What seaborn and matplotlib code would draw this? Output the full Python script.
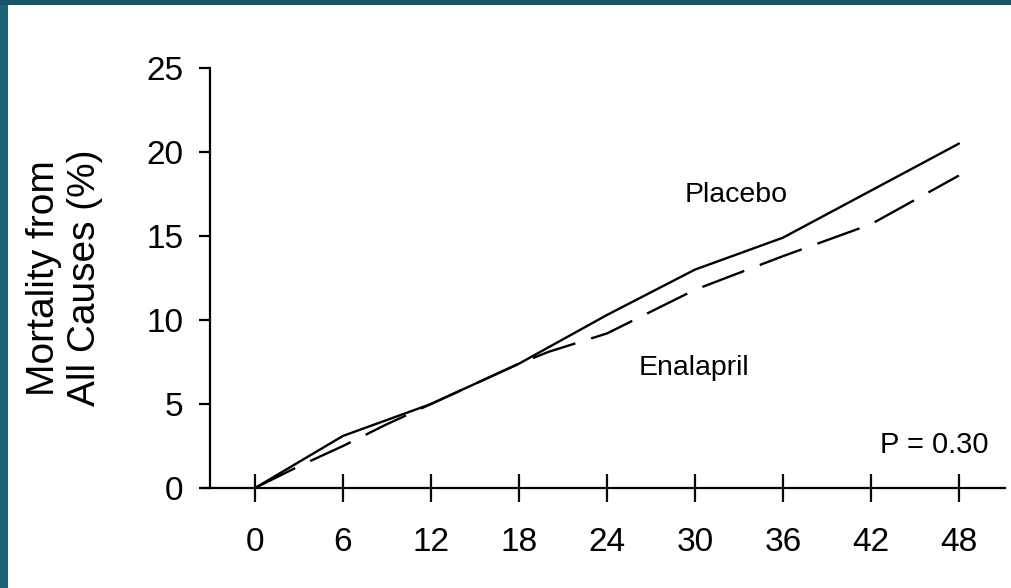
import matplotlib
matplotlib.use("Agg")
import matplotlib.pyplot as plt
from matplotlib.patches import Rectangle
import pandas as pd
import seaborn as sns

# months of follow-up
placebo_months = [0, 6, 12, 18, 24, 30, 36, 42, 48]
placebo_mortality = [0.0, 3.1, 5.0, 7.4, 10.3, 13.0, 14.9, 17.7, 20.5]

enalapril_months = [0, 3, 6, 9, 12, 18, 20, 24, 30, 36, 42, 48]
enalapril_mortality = [0.0, 1.3, 2.5, 3.8, 5.0, 7.4, 8.1, 9.2, 11.8, 13.8, 15.7, 18.6]

x_ticks = [0, 6, 12, 18, 24, 30, 36, 42, 48]
y_ticks = [0, 5, 10, 15, 20, 25]

placebo_df = pd.DataFrame({"month": placebo_months, "mortality": placebo_mortality})
enalapril_df = pd.DataFrame({"month": enalapril_months, "mortality": enalapril_mortality})

sns.set_theme(style="white")
plt.rcParams["font.family"] = ["Liberation Sans", "DejaVu Sans"]
plt.rcParams["text.color"] = "black"
plt.rcParams["axes.labelcolor"] = "black"

fig = plt.figure(figsize=(10.12, 5.88), dpi=100)
fig.patch.set_facecolor("white")

# teal slide border
fig.patches.append(Rectangle((0, 0), 8 / 1012, 1, transform=fig.transFigure,
                             facecolor="#1a6276", edgecolor="none", zorder=0))
fig.patches.append(Rectangle((0, 1 - 5 / 588), 1, 5 / 588, transform=fig.transFigure,
                             facecolor="#17566a", edgecolor="none", zorder=0))

ax = fig.add_axes([203 / 1012, 100 / 588, 802 / 1012, 420 / 588])
ax.set_facecolor("none")

sns.lineplot(data=placebo_df, x="month", y="mortality", ax=ax,
             color="black", linewidth=1.7)
sns.lineplot(data=enalapril_df, x="month", y="mortality", ax=ax,
             color="black", linewidth=1.7, linestyle=(0, (19, 7)))

ax.set_xlim(-3.545, 51.14)
ax.set_ylim(0, 25)

for s in ["top", "right"]:
    ax.spines[s].set_visible(False)
for s in ["left", "bottom"]:
    ax.spines[s].set_color("black")
    ax.spines[s].set_linewidth(1.6)
ax.spines["left"].set_position(("axes", 7 / 802))

ax.set_xticks(x_ticks)
ax.set_yticks(y_ticks)
ax.tick_params(axis="x", direction="inout", length=20, width=1.6, colors="black",
               labelsize=24, pad=18)
ax.tick_params(axis="y", direction="out", length=8, width=1.6, colors="black",
               labelsize=24, pad=11)
ax.tick_params(left=True, bottom=True)

ax.set_xlabel("")
ax.set_ylabel("Mortality from\nAll Causes (%)", fontsize=28, linespacing=1.2,
              labelpad=31)

ax.text(32.8, 17.45, "Placebo", fontsize=20.5, ha="center", va="center")
ax.text(29.9, 7.15, "Enalapril", fontsize=20.5, ha="center", va="center")
ax.text(50.0, 2.55, "P = 0.30", fontsize=21, ha="right", va="center")

fig.savefig("out.png", dpi=100)
